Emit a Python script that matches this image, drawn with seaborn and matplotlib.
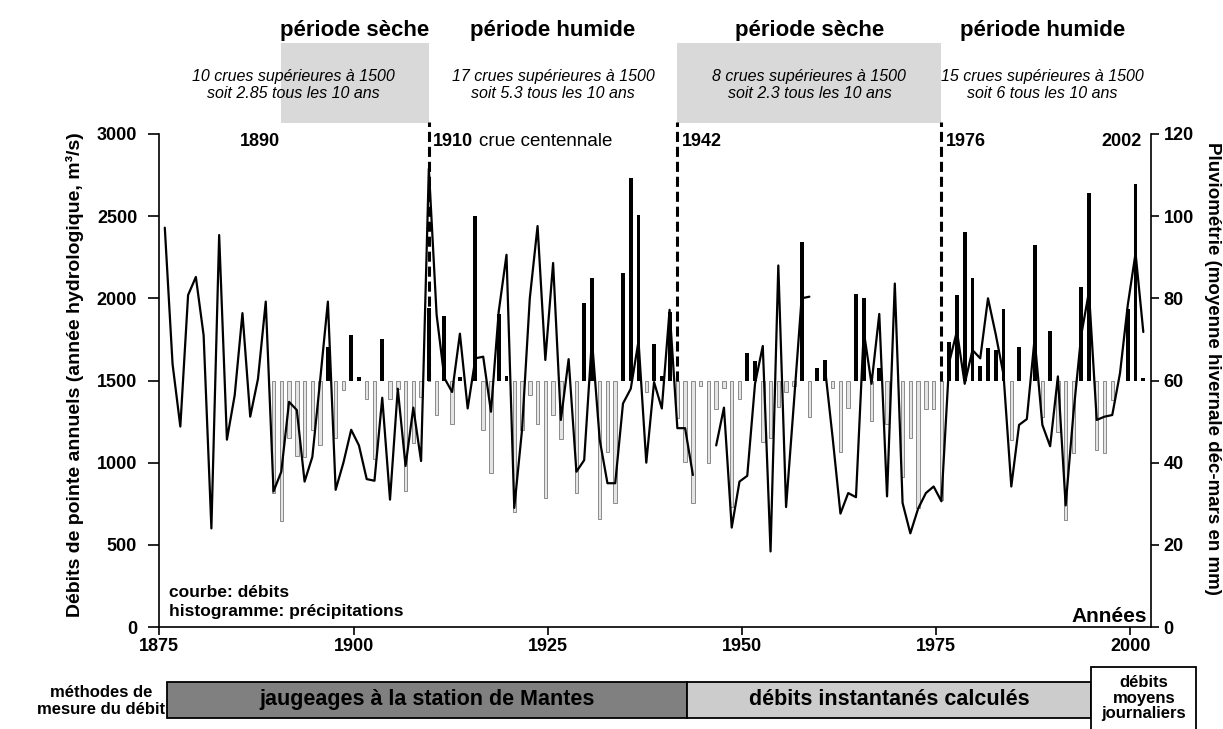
import matplotlib

matplotlib.use("Agg")

import matplotlib.pyplot as plt
import matplotlib.transforms as mtransforms
import numpy as np
import pandas as pd
import seaborn as sns
from matplotlib.patches import Rectangle

# annual peak discharge (m3/s), hydrological years 1876-2002, NaN = no data
FLOW_YEARS = list(range(1876, 2003))
FLOW = [
    2430, 1600, 1220, 2020, 2130, 1775, 600, 2385, 1140, 1410,
    1910, 1280, 1510, 1980, 825, 945, 1370, 1320, 885, 1035,
    1500, 1980, 835, 1000, 1200, 1105, 900, 890, 1395, 775,
    1450, 980, 1335, 1010, 2790, 1900, 1515, 1430, 1785, 1330,
    1635, 1645, 1310, 1920, 2265, 725, 1200, 2000, 2440, 1625,
    2215, 1260, 1630, 945, 1015, 1750, 1140, 875, 875, 1360,
    1450, 1740, 1000, 1490, 1330, 1930, 1210, 1210, 925, np.nan,
    np.nan, 1105, 1335, 605, 885, 920, 1480, 1710, 460, 2200,
    730, 1360, 2000, 2010, np.nan, 1580, 1150, 690, 815, 790,
    1800, 1480, 1905, 795, 2090, 755, 570, 720, 815, 855,
    765, 1610, 1800, 1480, 1685, 1635, 2000, 1780, 1535, 855,
    1230, 1265, 1755, 1230, 1100, 1525, 740, 1300, 1775, 2040,
    1260, 1280, 1290, 1545, 1960, 2275, 1795,
]

# winter rainfall (mean dec-mar, mm), 1890-2002
RAIN_YEARS = list(range(1890, 2003))
RAIN = [
    32.7, 25.8, 45.9, 41.7, 41.3, 48.0, 44.3, 68.2, 46.1, 57.8,
    71.0, 60.9, 55.4, 41.0, 70.1, 55.4, 57.9, 33.2, 44.9, 56.0,
    77.6, 51.6, 75.7, 49.4, 60.9, 60.0, 100.0, 47.9, 37.6, 76.3,
    61.1, 28.1, 47.9, 56.5, 49.5, 31.3, 51.6, 45.7, 60.0, 32.7,
    78.8, 84.9, 26.2, 42.7, 30.1, 86.1, 109.2, 100.4, 57.3, 69.0,
    61.0, 76.7, 50.8, 40.2, 30.1, 58.6, 39.8, 53.0, 58.2, 29.3,
    55.4, 66.6, 64.8, 45.1, 45.9, 53.6, 57.3, 58.6, 93.8, 51.0,
    63.0, 64.9, 58.2, 42.7, 53.2, 81.0, 80.0, 50.2, 63.0, 49.5,
    60.0, 36.6, 45.9, 28.9, 53.0, 53.0, 31.0, 69.4, 80.8, 96.2,
    84.9, 63.5, 68.0, 67.4, 77.3, 45.5, 68.2, 60.0, 93.0, 51.2,
    72.1, 47.5, 26.0, 42.3, 82.8, 105.6, 43.1, 42.3, 55.3, 60.0,
    77.5, 107.8, 60.7,
]
RAIN_MEAN = 60
FLOW_THRESHOLD = 1500

PERIOD_BOUNDS = [1875, 1910, 1942, 1976, 2002]
PERIOD_TITLES = ["période sèche", "période humide", "période sèche", "période humide"]
PERIOD_NOTES = [
    "10 crues supérieures à 1500\nsoit 2.85 tous les 10 ans",
    "17 crues supérieures à 1500\nsoit 5.3 tous les 10 ans",
    "8 crues supérieures à 1500\nsoit 2.3 tous les 10 ans",
    "15 crues supérieures à 1500\nsoit 6 tous les 10 ans",
]
DRY_BOXES = [(1891, 1910), (1942, 1976)]
BREAK_YEARS = [1910, 1942, 1976]
YEAR_TAGS = [(1891, "1890", "right"), (1910, "1910", "left"), (1942, "1942", "left"),
             (1976, "1976", "left"), (2002, "2002", "right")]

METHOD_SPANS = [(1876, 1943), (1943, 1995), (1995, 2008.5)]
METHOD_LABELS = ["jaugeages à la station de Mantes", "débits instantanés calculés",
                 "débits\nmoyens\njournaliers"]

HYDRO_SHIFT = 0.3  # hydrological year drawn slightly before the calendar tick


def main() -> None:
    sns.set_theme(style="ticks", rc={
        "axes.edgecolor": "black", "xtick.color": "black", "ytick.color": "black",
        "text.color": "black", "axes.labelcolor": "black", "axes.linewidth": 1.2,
    })
    plt.rcParams["font.family"] = ["Liberation Sans", "DejaVu Sans"]
    plt.rcParams["font.weight"] = "bold"

    fig = plt.figure(figsize=(12.23, 7.29), dpi=100)
    ax = fig.add_axes([0.1303, 0.1399, 0.8109, 0.6763])
    ax2 = ax.twinx()

    # histogram around the mean rainfall
    rain = pd.DataFrame({"x": np.array(RAIN_YEARS) - HYDRO_SHIFT, "rain": RAIN})
    wet = rain[rain["rain"] >= RAIN_MEAN]
    dry = rain[rain["rain"] < RAIN_MEAN]
    ax2.bar(dry["x"], dry["rain"] - RAIN_MEAN, bottom=RAIN_MEAN, width=0.45,
            color="#e4e4e4", edgecolor="#8a8a8a", linewidth=0.7)
    ax2.bar(wet["x"], wet["rain"] - RAIN_MEAN, bottom=RAIN_MEAN, width=0.5,
            color="black", linewidth=0)

    # discharge curve, broken where data is missing
    flow = pd.DataFrame({"x": np.array(FLOW_YEARS) - HYDRO_SHIFT, "flow": FLOW})
    flow["segment"] = flow["flow"].isna().cumsum()
    flow = flow.dropna()
    sns.lineplot(data=flow, x="x", y="flow", units="segment", estimator=None,
                 color="black", linewidth=1.6, ax=ax, legend=False)

    ax.set_xlim(1875, 2002.7)
    ax.set_ylim(0, 3000)
    ax2.set_ylim(0, 120)
    ax.set_xticks([1875, 1900, 1925, 1950, 1975, 2000])
    ax.set_yticks(range(0, 3001, 500))
    ax2.set_yticks(range(0, 121, 20))
    ax.set_xlabel("")
    ax.set_ylabel("")
    for side in ["top", "right"]:
        ax.spines[side].set_visible(False)
    for side in ["top", "left", "bottom"]:
        ax2.spines[side].set_visible(False)
    ax2.spines["right"].set_linewidth(1.2)
    ax.tick_params(axis="y", length=8, width=1.2, pad=8, labelsize=13)
    ax.tick_params(axis="x", length=6, width=1.2, pad=2, labelsize=13)
    ax2.tick_params(axis="y", length=5.5, width=1.2, pad=3.5, labelsize=13)
    ax.set_zorder(ax2.get_zorder() + 1)
    ax.patch.set_visible(False)

    # period breaks
    for yr in BREAK_YEARS:
        ax.axvline(yr - HYDRO_SHIFT, ymin=FLOW_THRESHOLD / 3000, ymax=1.025, color="black",
                   linewidth=2.2, linestyle=(0, (3.3, 1.6)), clip_on=False)

    top_tr = mtransforms.blended_transform_factory(ax.transData, fig.transFigure)
    for start, end in DRY_BOXES:
        fig.add_artist(Rectangle((start - HYDRO_SHIFT, 0.8317), end - start, 0.1089,
                                 transform=top_tr, facecolor="#d9d9d9",
                                 edgecolor="none", zorder=-1))

    for k, (title, note) in enumerate(zip(PERIOD_TITLES, PERIOD_NOTES)):
        mid = (PERIOD_BOUNDS[k] + PERIOD_BOUNDS[k + 1]) / 2
        title_x = sum(DRY_BOXES[k // 2]) / 2 if k % 2 == 0 else mid
        ax.text(title_x - HYDRO_SHIFT, 0.9506, title, transform=top_tr,
                ha="center", va="baseline", fontsize=16)
        ax.text(mid - HYDRO_SHIFT, 0.8835, note, transform=top_tr, ha="center",
                va="center", fontsize=11.5, style="italic", fontweight="normal",
                linespacing=1.15)

    tag_tr = ax.get_xaxis_transform()
    for yr, label, side in YEAR_TAGS:
        dx = 3 if side == "left" else -1
        tag = ax.annotate(label, xy=(yr - HYDRO_SHIFT, 0.9757), xycoords=tag_tr,
                          xytext=(dx, 0), textcoords="offset points",
                          ha=side, va="baseline", fontsize=13)
        if label == "1910":
            ax.annotate("crue centennale", xy=(1, 0), xycoords=tag, xytext=(4, 0),
                        textcoords="offset points", ha="left", va="bottom",
                        fontsize=13.5, fontweight="normal")

    ax.text(0.010, 0.0615, "courbe: débits", transform=ax.transAxes,
            ha="left", va="baseline", fontsize=12.5)
    ax.text(0.010, 0.0223, "histogramme: précipitations", transform=ax.transAxes,
            ha="left", va="baseline", fontsize=12.5)
    ax.text(0.9957, 0.0108, "Années", transform=ax.transAxes,
            ha="right", va="baseline", fontsize=15)

    fig.text(75 / 1223, 1 - 375 / 729, "Débits de pointe annuels (année hydrologique, m³/s)",
             rotation=90, ha="center", va="center", fontsize=14)
    fig.text(1212 / 1223, 1 - 368 / 729, "Pluviométrie (moyenne hivernale déc-mars en mm)",
             rotation=270, ha="center", va="center", fontsize=13.5)

    # measurement methods strip
    bottom_tr = top_tr
    strip = [(0.0149, 0.0499, "#808080"), (0.0149, 0.0499, "#cccccc"), (-0.02, 0.1054, "white")]
    for (start, end), label, (y0, h, color) in zip(METHOD_SPANS, METHOD_LABELS, strip):
        fig.add_artist(Rectangle((start, y0), end - start, h, transform=bottom_tr,
                                 facecolor=color, edgecolor="black", linewidth=1.3,
                                 clip_on=False))
        multi = "\n" in label
        ax.text((start + end) / 2, 0.0425 if multi else 0.0398, label, transform=bottom_tr,
                ha="center", va="center", fontsize=12 if multi else 15.5,
                linespacing=1.05)
    fig.text(101 / 1223, 1 - 701 / 729, "méthodes de\nmesure du débit", ha="center",
             va="center", fontsize=12, linespacing=1.12)

    fig.savefig("out.png", dpi=100)
    plt.close(fig)


if __name__ == "__main__":
    main()
